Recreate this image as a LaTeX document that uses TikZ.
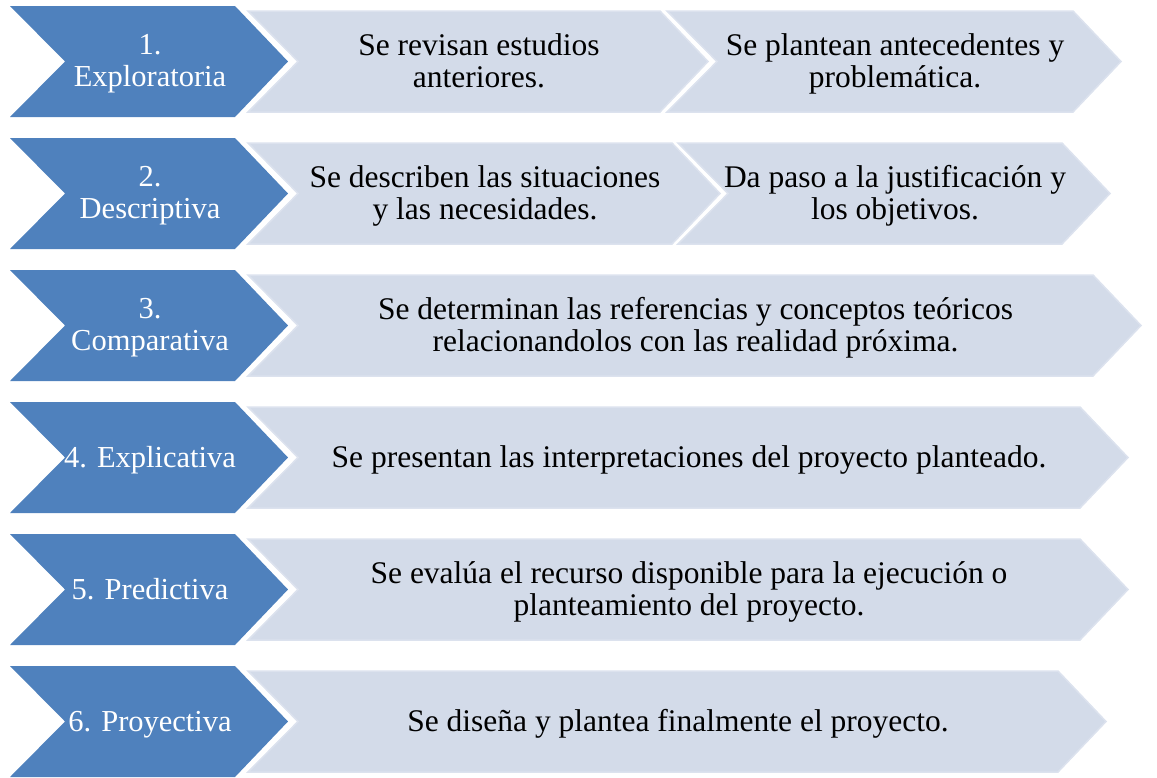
\documentclass[tikz,border=0pt]{standalone}
\usepackage{fontspec}
\setmainfont{Liberation Serif}
\definecolor{stageblue}{HTML}{4F81BD}
\definecolor{taskgrey}{HTML}{D3DBE9}
\definecolor{taskedge}{HTML}{DCE2EE}
\tikzset{
  stage/.style={fill=stageblue,draw=none},
  task/.style={fill=taskgrey,draw=taskedge,line width=1.5pt,line join=miter},
  boxtext/.style={align=center,inner sep=0pt,yshift=-3.5pt,execute at begin node=\strut,execute at end node=\strut},
  stagetext/.style={boxtext,text=white,font=\fontsize{30.5}{32}\selectfont},
  tasktext/.style={boxtext,text=black,font=\fontsize{31.5}{32}\selectfont}
}
\begin{document}
\begin{tikzpicture}[x=1pt,y=-1pt]
 \useasboundingbox (0,0) rectangle (1157,777);
 \foreach \i/\name in {0/{1.\\Exploratoria},1/{2.\\Descriptiva},2/{3.\\Comparativa},
   3/{4. Explicativa},4/{5. Predictiva},5/{6. Proyectiva}}{
   \draw[stage] (10,6+132*\i) -- ++(225,0) -- ++(53,55.5) -- ++(-53,55.5)
     -- ++(-225,0) -- ++(55,-55.5) -- cycle;
   \node[stagetext] (s\i) at (150,61.5+132*\i) {\name};
 }
 \foreach \i/\xa/\xb/\txt [count=\k] in {
   0/248/660/{Se revisan estudios\\anteriores.},
   0/667/1073/{Se plantean antecedentes y\\problemática.},
   1/248/672/{Se describen las situaciones\\y las necesidades.},
   1/678/1062/{Da paso a la justificación y\\los objetivos.},
   2/248/1093/{Se determinan las referencias y conceptos teóricos\\relacionandolos con las realidad próxima.},
   3/248/1080/{Se presentan las interpretaciones del proyecto planteado.},
   4/248/1080/{Se evalúa el recurso disponible para la ejecución o\\planteamiento del proyecto.},
   5/248/1058/{Se diseña y plantea finalmente el proyecto.}}{
   \draw[task] (\xa,11+132*\i) -- (\xb,11+132*\i) -- ++(48,50.5) -- ++(-48,50.5)
     -- (\xa,112+132*\i) -- ++(50,-50.5) -- cycle;
   \node[tasktext] (t\k) at ({(\xa+50+\xb)/2},61.5+132*\i) {\txt};
 }
\end{tikzpicture}
\end{document}
